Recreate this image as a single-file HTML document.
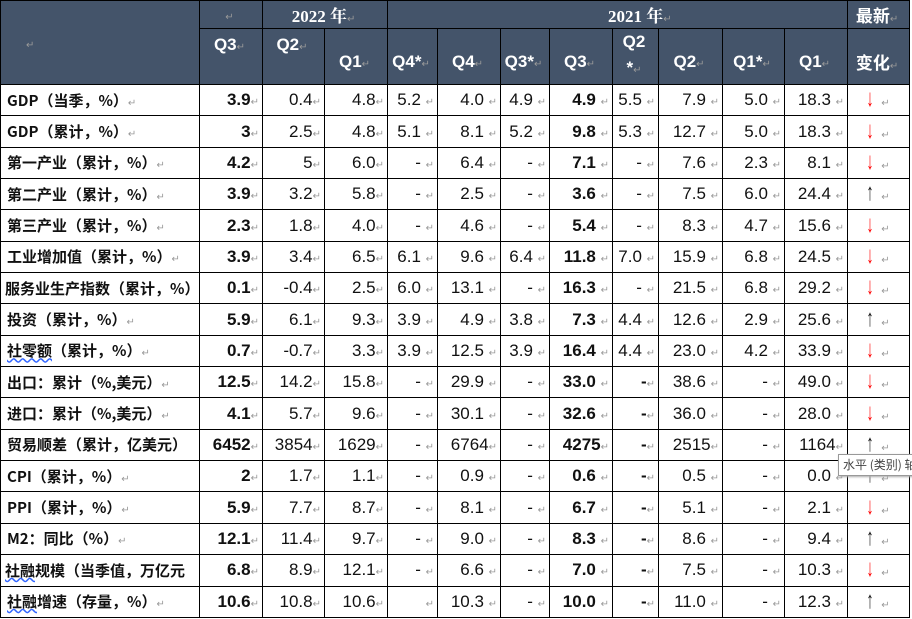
<!DOCTYPE html>
<html><head><meta charset="utf-8"><style>
body{margin:0;width:912px;height:619px;background:#fff;overflow:hidden;position:relative}
table{position:absolute;left:0;top:0;width:909px;border-collapse:collapse;table-layout:fixed;font-family:"Liberation Sans","Noto Sans CJK SC",sans-serif;font-size:17px;color:#111}
td{border:1.5px solid #000;padding:0 3px 0 0;text-align:right;white-space:nowrap;overflow:hidden}
.h td{background:#44546a;color:#fff;font-weight:bold;text-align:center;font-size:17px}
.y{font-family:"Liberation Serif","Noto Serif CJK SC",serif}
.r{color:#999;font-size:10px;font-weight:normal}
td.l{text-align:left;padding-left:6px;font-family:"Noto Sans CJK SC",sans-serif;font-weight:bold;font-size:15px}
b{font-weight:bold}
td.a{text-align:center}
.ar{display:inline-block;font-size:24px;line-height:20px;transform:scaleX(0.6)}
.dn{color:#f00}
.w{text-decoration:underline wavy #36f}
tr.d{height:31.35px}
#tip{position:absolute;left:838px;top:454px;width:90px;height:20px;background:#fff;border:1px solid #999;font-family:"Noto Sans CJK SC",sans-serif;font-size:12px;color:#444;line-height:20px;padding-left:4px;box-shadow:1px 1px 2px #aaa}
</style></head><body>
<table>
<colgroup><col style="width:199px"><col style="width:63px"><col style="width:62px"><col style="width:63px"><col style="width:50px"><col style="width:63px"><col style="width:49px"><col style="width:63px"><col style="width:46px"><col style="width:64px"><col style="width:62px"><col style="width:63px"><col style="width:62px"></colgroup>
<tr class="h" style="height:28px"><td rowspan="2" style="text-align:left;padding-left:25px"><span class="r">↵</span></td><td><span class="r">↵</span></td><td colspan="2" class="y">2022 年<span class="r">↵</span></td><td colspan="8" class="y" style="text-align:left;padding-left:220px">2021 年<span class="r">↵</span></td><td>最新<span class="r">↵</span></td></tr>
<tr class="h" style="height:56px"><td style="vertical-align:top;padding-top:6px">Q3<span class="r">↵</span></td><td style="vertical-align:top;padding-top:6px">Q2<span class="r">↵</span></td><td style="padding-top:10px">Q1<span class="r">↵</span></td><td style="padding-top:10px">Q4*<span class="r">↵</span></td><td style="padding-top:10px">Q4<span class="r">↵</span></td><td style="padding-top:10px">Q3*<span class="r">↵</span></td><td style="padding-top:10px">Q3<span class="r">↵</span></td><td style="line-height:26px">Q2<br>*<span class="r">↵</span></td><td style="padding-top:10px">Q2<span class="r">↵</span></td><td style="padding-top:10px">Q1*<span class="r">↵</span></td><td style="padding-top:10px">Q1<span class="r">↵</span></td><td style="padding-top:10px">变化<span class="r">↵</span></td></tr>
<tr class="d"><td class="l">GDP（当季，%）<span class="r">↵</span></td><td><b>3.9</b><span class="r">↵</span></td><td>0.4<span class="r">↵</span></td><td>4.8<span class="r">↵</span></td><td>5.2 <span class="r">↵</span></td><td>4.0 <span class="r">↵</span></td><td>4.9 <span class="r">↵</span></td><td><b>4.9</b> <span class="r">↵</span></td><td>5.5 <span class="r">↵</span></td><td>7.9 <span class="r">↵</span></td><td>5.0 <span class="r">↵</span></td><td>18.3 <span class="r">↵</span></td><td class="a"><span class="ar dn">↓</span> <span class="r">↵</span></td></tr>
<tr class="d"><td class="l">GDP（累计，%）<span class="r">↵</span></td><td><b>3</b><span class="r">↵</span></td><td>2.5<span class="r">↵</span></td><td>4.8<span class="r">↵</span></td><td>5.1 <span class="r">↵</span></td><td>8.1 <span class="r">↵</span></td><td>5.2 <span class="r">↵</span></td><td><b>9.8</b> <span class="r">↵</span></td><td>5.3 <span class="r">↵</span></td><td>12.7 <span class="r">↵</span></td><td>5.0 <span class="r">↵</span></td><td>18.3 <span class="r">↵</span></td><td class="a"><span class="ar dn">↓</span> <span class="r">↵</span></td></tr>
<tr class="d"><td class="l">第一产业（累计，%）<span class="r">↵</span></td><td><b>4.2</b><span class="r">↵</span></td><td>5<span class="r">↵</span></td><td>6.0<span class="r">↵</span></td><td>- <span class="r">↵</span></td><td>6.4 <span class="r">↵</span></td><td>- <span class="r">↵</span></td><td><b>7.1</b> <span class="r">↵</span></td><td>- <span class="r">↵</span></td><td>7.6 <span class="r">↵</span></td><td>2.3 <span class="r">↵</span></td><td>8.1 <span class="r">↵</span></td><td class="a"><span class="ar dn">↓</span> <span class="r">↵</span></td></tr>
<tr class="d"><td class="l">第二产业（累计，%）<span class="r">↵</span></td><td><b>3.9</b><span class="r">↵</span></td><td>3.2<span class="r">↵</span></td><td>5.8<span class="r">↵</span></td><td>- <span class="r">↵</span></td><td>2.5 <span class="r">↵</span></td><td>- <span class="r">↵</span></td><td><b>3.6</b> <span class="r">↵</span></td><td>- <span class="r">↵</span></td><td>7.5 <span class="r">↵</span></td><td>6.0 <span class="r">↵</span></td><td>24.4 <span class="r">↵</span></td><td class="a"><span class="ar">↑</span> <span class="r">↵</span></td></tr>
<tr class="d"><td class="l">第三产业（累计，%）<span class="r">↵</span></td><td><b>2.3</b><span class="r">↵</span></td><td>1.8<span class="r">↵</span></td><td>4.0<span class="r">↵</span></td><td>- <span class="r">↵</span></td><td>4.6 <span class="r">↵</span></td><td>- <span class="r">↵</span></td><td><b>5.4</b> <span class="r">↵</span></td><td>- <span class="r">↵</span></td><td>8.3 <span class="r">↵</span></td><td>4.7 <span class="r">↵</span></td><td>15.6 <span class="r">↵</span></td><td class="a"><span class="ar dn">↓</span> <span class="r">↵</span></td></tr>
<tr class="d"><td class="l">工业增加值（累计，%）<span class="r">↵</span></td><td><b>3.9</b><span class="r">↵</span></td><td>3.4<span class="r">↵</span></td><td>6.5<span class="r">↵</span></td><td>6.1 <span class="r">↵</span></td><td>9.6 <span class="r">↵</span></td><td>6.4 <span class="r">↵</span></td><td><b>11.8</b> <span class="r">↵</span></td><td>7.0 <span class="r">↵</span></td><td>15.9 <span class="r">↵</span></td><td>6.8 <span class="r">↵</span></td><td>24.5 <span class="r">↵</span></td><td class="a"><span class="ar dn">↓</span> <span class="r">↵</span></td></tr>
<tr class="d"><td class="l" style="padding-left:4px">服务业生产指数（累计，%）</td><td><b>0.1</b><span class="r">↵</span></td><td>-0.4<span class="r">↵</span></td><td>2.5<span class="r">↵</span></td><td>6.0 <span class="r">↵</span></td><td>13.1 <span class="r">↵</span></td><td>- <span class="r">↵</span></td><td><b>16.3</b> <span class="r">↵</span></td><td>- <span class="r">↵</span></td><td>21.5 <span class="r">↵</span></td><td>6.8 <span class="r">↵</span></td><td>29.2 <span class="r">↵</span></td><td class="a"><span class="ar dn">↓</span> <span class="r">↵</span></td></tr>
<tr class="d"><td class="l">投资（累计，%）<span class="r">↵</span></td><td><b>5.9</b><span class="r">↵</span></td><td>6.1<span class="r">↵</span></td><td>9.3<span class="r">↵</span></td><td>3.9 <span class="r">↵</span></td><td>4.9 <span class="r">↵</span></td><td>3.8 <span class="r">↵</span></td><td><b>7.3</b> <span class="r">↵</span></td><td>4.4 <span class="r">↵</span></td><td>12.6 <span class="r">↵</span></td><td>2.9 <span class="r">↵</span></td><td>25.6 <span class="r">↵</span></td><td class="a"><span class="ar">↑</span> <span class="r">↵</span></td></tr>
<tr class="d"><td class="l"><span class="w">社零额</span>（累计，%）<span class="r">↵</span></td><td><b>0.7</b><span class="r">↵</span></td><td>-0.7<span class="r">↵</span></td><td>3.3<span class="r">↵</span></td><td>3.9 <span class="r">↵</span></td><td>12.5 <span class="r">↵</span></td><td>3.9 <span class="r">↵</span></td><td><b>16.4</b> <span class="r">↵</span></td><td>4.4 <span class="r">↵</span></td><td>23.0 <span class="r">↵</span></td><td>4.2 <span class="r">↵</span></td><td>33.9 <span class="r">↵</span></td><td class="a"><span class="ar dn">↓</span> <span class="r">↵</span></td></tr>
<tr class="d"><td class="l">出口：累计（%,美元）<span class="r">↵</span></td><td><b>12.5</b><span class="r">↵</span></td><td>14.2<span class="r">↵</span></td><td>15.8<span class="r">↵</span></td><td>- <span class="r">↵</span></td><td>29.9 <span class="r">↵</span></td><td>- <span class="r">↵</span></td><td><b>33.0</b> <span class="r">↵</span></td><td><b>-</b><span class="r">↵</span></td><td>38.6 <span class="r">↵</span></td><td>- <span class="r">↵</span></td><td>49.0 <span class="r">↵</span></td><td class="a"><span class="ar dn">↓</span> <span class="r">↵</span></td></tr>
<tr class="d"><td class="l">进口：累计（%,美元）<span class="r">↵</span></td><td><b>4.1</b><span class="r">↵</span></td><td>5.7<span class="r">↵</span></td><td>9.6<span class="r">↵</span></td><td>- <span class="r">↵</span></td><td>30.1 <span class="r">↵</span></td><td>- <span class="r">↵</span></td><td><b>32.6</b> <span class="r">↵</span></td><td><b>-</b><span class="r">↵</span></td><td>36.0 <span class="r">↵</span></td><td>- <span class="r">↵</span></td><td>28.0 <span class="r">↵</span></td><td class="a"><span class="ar dn">↓</span> <span class="r">↵</span></td></tr>
<tr class="d"><td class="l">贸易顺差（累计，亿美元）</td><td><b>6452</b><span class="r">↵</span></td><td>3854<span class="r">↵</span></td><td>1629<span class="r">↵</span></td><td>- <span class="r">↵</span></td><td>6764<span class="r">↵</span></td><td>- <span class="r">↵</span></td><td><b>4275</b><span class="r">↵</span></td><td><b>-</b><span class="r">↵</span></td><td>2515<span class="r">↵</span></td><td>- <span class="r">↵</span></td><td>1164<span class="r">↵</span></td><td class="a"><span class="ar">↑</span> <span class="r">↵</span></td></tr>
<tr class="d"><td class="l">CPI（累计，%）<span class="r">↵</span></td><td><b>2</b><span class="r">↵</span></td><td>1.7<span class="r">↵</span></td><td>1.1<span class="r">↵</span></td><td>- <span class="r">↵</span></td><td>0.9 <span class="r">↵</span></td><td>- <span class="r">↵</span></td><td><b>0.6</b> <span class="r">↵</span></td><td><b>-</b><span class="r">↵</span></td><td>0.5 <span class="r">↵</span></td><td>- <span class="r">↵</span></td><td>0.0 <span class="r">↵</span></td><td class="a"><span class="ar">↑</span> <span class="r">↵</span></td></tr>
<tr class="d"><td class="l">PPI（累计，%）<span class="r">↵</span></td><td><b>5.9</b><span class="r">↵</span></td><td>7.7<span class="r">↵</span></td><td>8.7<span class="r">↵</span></td><td>- <span class="r">↵</span></td><td>8.1 <span class="r">↵</span></td><td>- <span class="r">↵</span></td><td><b>6.7</b> <span class="r">↵</span></td><td><b>-</b><span class="r">↵</span></td><td>5.1 <span class="r">↵</span></td><td>- <span class="r">↵</span></td><td>2.1 <span class="r">↵</span></td><td class="a"><span class="ar dn">↓</span> <span class="r">↵</span></td></tr>
<tr class="d"><td class="l">M2：同比（%）<span class="r">↵</span></td><td><b>12.1</b><span class="r">↵</span></td><td>11.4<span class="r">↵</span></td><td>9.7<span class="r">↵</span></td><td>- <span class="r">↵</span></td><td>9.0 <span class="r">↵</span></td><td>- <span class="r">↵</span></td><td><b>8.3</b> <span class="r">↵</span></td><td><b>-</b><span class="r">↵</span></td><td>8.6 <span class="r">↵</span></td><td>- <span class="r">↵</span></td><td>9.4 <span class="r">↵</span></td><td class="a"><span class="ar">↑</span> <span class="r">↵</span></td></tr>
<tr class="d"><td class="l" style="padding-left:4px"><span class="w">社融</span>规模（当季值，万亿元</td><td><b>6.8</b><span class="r">↵</span></td><td>8.9<span class="r">↵</span></td><td>12.1<span class="r">↵</span></td><td>- <span class="r">↵</span></td><td>6.6 <span class="r">↵</span></td><td>- <span class="r">↵</span></td><td><b>7.0</b> <span class="r">↵</span></td><td><b>-</b><span class="r">↵</span></td><td>7.5 <span class="r">↵</span></td><td>- <span class="r">↵</span></td><td>10.3 <span class="r">↵</span></td><td class="a"><span class="ar dn">↓</span> <span class="r">↵</span></td></tr>
<tr class="d"><td class="l"><span class="w">社融</span>增速（存量，%）<span class="r">↵</span></td><td><b>10.6</b><span class="r">↵</span></td><td>10.8<span class="r">↵</span></td><td>10.6<span class="r">↵</span></td><td><span class="r">↵</span></td><td>10.3 <span class="r">↵</span></td><td>- <span class="r">↵</span></td><td><b>10.0</b> <span class="r">↵</span></td><td><b>-</b><span class="r">↵</span></td><td>11.0 <span class="r">↵</span></td><td>- <span class="r">↵</span></td><td>12.3 <span class="r">↵</span></td><td class="a"><span class="ar">↑</span> <span class="r">↵</span></td></tr>
</table>
<div id="tip">水平 (类别) 轴</div>
</body></html>
